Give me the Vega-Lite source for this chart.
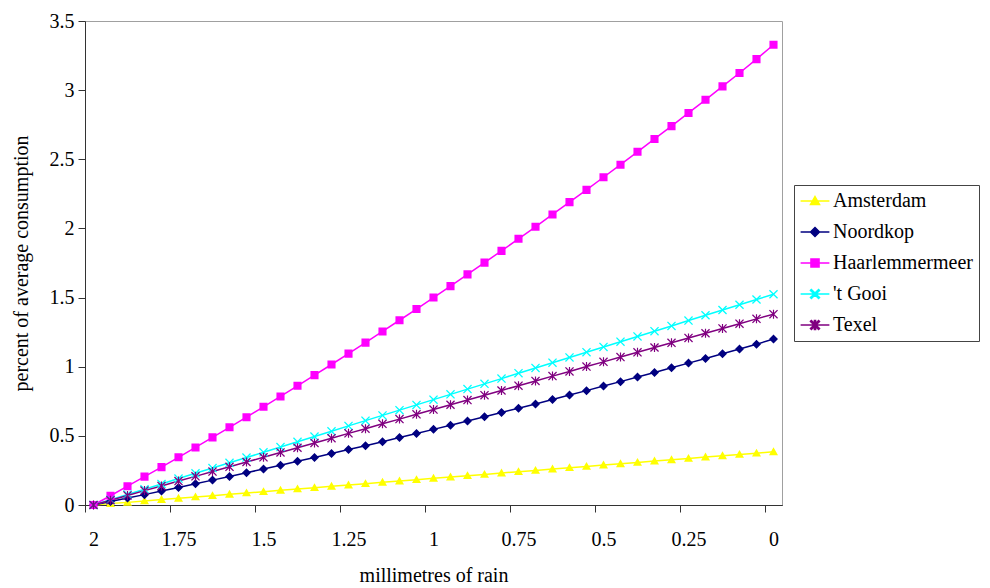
{
  "$schema": "https://vega.github.io/schema/vega-lite/v6.json",
  "autosize": {"type": "none"},
  "width": 697,
  "height": 484,
  "padding": {"left": 85, "top": 21, "right": 208, "bottom": 83},
  "background": "#ffffff",
  "data": {"values": [
    {"r":2,"s":"Amsterdam","v":0},{"r":1.95,"s":"Amsterdam","v":0.010},{"r":1.9,"s":"Amsterdam","v":0.019},{"r":1.85,"s":"Amsterdam","v":0.029},{"r":1.8,"s":"Amsterdam","v":0.039},{"r":1.75,"s":"Amsterdam","v":0.048},{"r":1.7,"s":"Amsterdam","v":0.058},{"r":1.65,"s":"Amsterdam","v":0.067},{"r":1.6,"s":"Amsterdam","v":0.077},{"r":1.55,"s":"Amsterdam","v":0.087},{"r":1.5,"s":"Amsterdam","v":0.096},{"r":1.45,"s":"Amsterdam","v":0.106},{"r":1.4,"s":"Amsterdam","v":0.116},{"r":1.35,"s":"Amsterdam","v":0.125},{"r":1.3,"s":"Amsterdam","v":0.135},{"r":1.25,"s":"Amsterdam","v":0.144},{"r":1.2,"s":"Amsterdam","v":0.154},{"r":1.15,"s":"Amsterdam","v":0.164},{"r":1.1,"s":"Amsterdam","v":0.173},{"r":1.05,"s":"Amsterdam","v":0.183},{"r":1,"s":"Amsterdam","v":0.193},{"r":0.95,"s":"Amsterdam","v":0.202},{"r":0.9,"s":"Amsterdam","v":0.212},{"r":0.85,"s":"Amsterdam","v":0.221},{"r":0.8,"s":"Amsterdam","v":0.231},{"r":0.75,"s":"Amsterdam","v":0.241},{"r":0.7,"s":"Amsterdam","v":0.250},{"r":0.65,"s":"Amsterdam","v":0.260},{"r":0.6,"s":"Amsterdam","v":0.270},{"r":0.55,"s":"Amsterdam","v":0.279},{"r":0.5,"s":"Amsterdam","v":0.289},{"r":0.45,"s":"Amsterdam","v":0.298},{"r":0.4,"s":"Amsterdam","v":0.308},{"r":0.35,"s":"Amsterdam","v":0.318},{"r":0.3,"s":"Amsterdam","v":0.327},{"r":0.25,"s":"Amsterdam","v":0.337},{"r":0.2,"s":"Amsterdam","v":0.347},{"r":0.15,"s":"Amsterdam","v":0.356},{"r":0.1,"s":"Amsterdam","v":0.366},{"r":0.05,"s":"Amsterdam","v":0.375},{"r":0,"s":"Amsterdam","v":0.385},
    {"r":2,"s":"Noordkop","v":0},{"r":1.95,"s":"Noordkop","v":0.025},{"r":1.9,"s":"Noordkop","v":0.050},{"r":1.85,"s":"Noordkop","v":0.075},{"r":1.8,"s":"Noordkop","v":0.101},{"r":1.75,"s":"Noordkop","v":0.127},{"r":1.7,"s":"Noordkop","v":0.153},{"r":1.65,"s":"Noordkop","v":0.180},{"r":1.6,"s":"Noordkop","v":0.206},{"r":1.55,"s":"Noordkop","v":0.233},{"r":1.5,"s":"Noordkop","v":0.261},{"r":1.45,"s":"Noordkop","v":0.288},{"r":1.4,"s":"Noordkop","v":0.316},{"r":1.35,"s":"Noordkop","v":0.344},{"r":1.3,"s":"Noordkop","v":0.372},{"r":1.25,"s":"Noordkop","v":0.401},{"r":1.2,"s":"Noordkop","v":0.429},{"r":1.15,"s":"Noordkop","v":0.458},{"r":1.1,"s":"Noordkop","v":0.488},{"r":1.05,"s":"Noordkop","v":0.517},{"r":1,"s":"Noordkop","v":0.547},{"r":0.95,"s":"Noordkop","v":0.577},{"r":0.9,"s":"Noordkop","v":0.607},{"r":0.85,"s":"Noordkop","v":0.638},{"r":0.8,"s":"Noordkop","v":0.669},{"r":0.75,"s":"Noordkop","v":0.700},{"r":0.7,"s":"Noordkop","v":0.731},{"r":0.65,"s":"Noordkop","v":0.763},{"r":0.6,"s":"Noordkop","v":0.795},{"r":0.55,"s":"Noordkop","v":0.827},{"r":0.5,"s":"Noordkop","v":0.860},{"r":0.45,"s":"Noordkop","v":0.892},{"r":0.4,"s":"Noordkop","v":0.925},{"r":0.35,"s":"Noordkop","v":0.958},{"r":0.3,"s":"Noordkop","v":0.992},{"r":0.25,"s":"Noordkop","v":1.026},{"r":0.2,"s":"Noordkop","v":1.059},{"r":0.15,"s":"Noordkop","v":1.094},{"r":0.1,"s":"Noordkop","v":1.128},{"r":0.05,"s":"Noordkop","v":1.163},{"r":0,"s":"Noordkop","v":1.200},
    {"r":2,"s":"Haarlemmermeer","v":0},{"r":1.95,"s":"Haarlemmermeer","v":0.067},{"r":1.9,"s":"Haarlemmermeer","v":0.136},{"r":1.85,"s":"Haarlemmermeer","v":0.205},{"r":1.8,"s":"Haarlemmermeer","v":0.274},{"r":1.75,"s":"Haarlemmermeer","v":0.345},{"r":1.7,"s":"Haarlemmermeer","v":0.416},{"r":1.65,"s":"Haarlemmermeer","v":0.489},{"r":1.6,"s":"Haarlemmermeer","v":0.562},{"r":1.55,"s":"Haarlemmermeer","v":0.635},{"r":1.5,"s":"Haarlemmermeer","v":0.710},{"r":1.45,"s":"Haarlemmermeer","v":0.785},{"r":1.4,"s":"Haarlemmermeer","v":0.862},{"r":1.35,"s":"Haarlemmermeer","v":0.939},{"r":1.3,"s":"Haarlemmermeer","v":1.016},{"r":1.25,"s":"Haarlemmermeer","v":1.095},{"r":1.2,"s":"Haarlemmermeer","v":1.174},{"r":1.15,"s":"Haarlemmermeer","v":1.255},{"r":1.1,"s":"Haarlemmermeer","v":1.336},{"r":1.05,"s":"Haarlemmermeer","v":1.417},{"r":1,"s":"Haarlemmermeer","v":1.500},{"r":0.95,"s":"Haarlemmermeer","v":1.583},{"r":0.9,"s":"Haarlemmermeer","v":1.668},{"r":0.85,"s":"Haarlemmermeer","v":1.753},{"r":0.8,"s":"Haarlemmermeer","v":1.838},{"r":0.75,"s":"Haarlemmermeer","v":1.925},{"r":0.7,"s":"Haarlemmermeer","v":2.012},{"r":0.65,"s":"Haarlemmermeer","v":2.101},{"r":0.6,"s":"Haarlemmermeer","v":2.190},{"r":0.55,"s":"Haarlemmermeer","v":2.279},{"r":0.5,"s":"Haarlemmermeer","v":2.370},{"r":0.45,"s":"Haarlemmermeer","v":2.461},{"r":0.4,"s":"Haarlemmermeer","v":2.554},{"r":0.35,"s":"Haarlemmermeer","v":2.647},{"r":0.3,"s":"Haarlemmermeer","v":2.740},{"r":0.25,"s":"Haarlemmermeer","v":2.835},{"r":0.2,"s":"Haarlemmermeer","v":2.930},{"r":0.15,"s":"Haarlemmermeer","v":3.027},{"r":0.1,"s":"Haarlemmermeer","v":3.124},{"r":0.05,"s":"Haarlemmermeer","v":3.224},{"r":0,"s":"Haarlemmermeer","v":3.328},
    {"r":2,"s":"'t Gooi","v":0},{"r":1.95,"s":"'t Gooi","v":0.038},{"r":1.9,"s":"'t Gooi","v":0.076},{"r":1.85,"s":"'t Gooi","v":0.114},{"r":1.8,"s":"'t Gooi","v":0.152},{"r":1.75,"s":"'t Gooi","v":0.191},{"r":1.7,"s":"'t Gooi","v":0.229},{"r":1.65,"s":"'t Gooi","v":0.267},{"r":1.6,"s":"'t Gooi","v":0.305},{"r":1.55,"s":"'t Gooi","v":0.343},{"r":1.5,"s":"'t Gooi","v":0.381},{"r":1.45,"s":"'t Gooi","v":0.419},{"r":1.4,"s":"'t Gooi","v":0.457},{"r":1.35,"s":"'t Gooi","v":0.495},{"r":1.3,"s":"'t Gooi","v":0.533},{"r":1.25,"s":"'t Gooi","v":0.572},{"r":1.2,"s":"'t Gooi","v":0.610},{"r":1.15,"s":"'t Gooi","v":0.648},{"r":1.1,"s":"'t Gooi","v":0.686},{"r":1.05,"s":"'t Gooi","v":0.724},{"r":1,"s":"'t Gooi","v":0.762},{"r":0.95,"s":"'t Gooi","v":0.800},{"r":0.9,"s":"'t Gooi","v":0.838},{"r":0.85,"s":"'t Gooi","v":0.876},{"r":0.8,"s":"'t Gooi","v":0.914},{"r":0.75,"s":"'t Gooi","v":0.953},{"r":0.7,"s":"'t Gooi","v":0.991},{"r":0.65,"s":"'t Gooi","v":1.029},{"r":0.6,"s":"'t Gooi","v":1.067},{"r":0.55,"s":"'t Gooi","v":1.105},{"r":0.5,"s":"'t Gooi","v":1.143},{"r":0.45,"s":"'t Gooi","v":1.181},{"r":0.4,"s":"'t Gooi","v":1.219},{"r":0.35,"s":"'t Gooi","v":1.257},{"r":0.3,"s":"'t Gooi","v":1.295},{"r":0.25,"s":"'t Gooi","v":1.334},{"r":0.2,"s":"'t Gooi","v":1.372},{"r":0.15,"s":"'t Gooi","v":1.410},{"r":0.1,"s":"'t Gooi","v":1.448},{"r":0.05,"s":"'t Gooi","v":1.486},{"r":0,"s":"'t Gooi","v":1.524},
    {"r":2,"s":"Texel","v":0},{"r":1.95,"s":"Texel","v":0.035},{"r":1.9,"s":"Texel","v":0.069},{"r":1.85,"s":"Texel","v":0.104},{"r":1.8,"s":"Texel","v":0.138},{"r":1.75,"s":"Texel","v":0.173},{"r":1.7,"s":"Texel","v":0.207},{"r":1.65,"s":"Texel","v":0.242},{"r":1.6,"s":"Texel","v":0.276},{"r":1.55,"s":"Texel","v":0.311},{"r":1.5,"s":"Texel","v":0.345},{"r":1.45,"s":"Texel","v":0.380},{"r":1.4,"s":"Texel","v":0.414},{"r":1.35,"s":"Texel","v":0.449},{"r":1.3,"s":"Texel","v":0.483},{"r":1.25,"s":"Texel","v":0.518},{"r":1.2,"s":"Texel","v":0.552},{"r":1.15,"s":"Texel","v":0.587},{"r":1.1,"s":"Texel","v":0.621},{"r":1.05,"s":"Texel","v":0.656},{"r":1,"s":"Texel","v":0.690},{"r":0.95,"s":"Texel","v":0.725},{"r":0.9,"s":"Texel","v":0.759},{"r":0.85,"s":"Texel","v":0.794},{"r":0.8,"s":"Texel","v":0.828},{"r":0.75,"s":"Texel","v":0.863},{"r":0.7,"s":"Texel","v":0.897},{"r":0.65,"s":"Texel","v":0.932},{"r":0.6,"s":"Texel","v":0.966},{"r":0.55,"s":"Texel","v":1.001},{"r":0.5,"s":"Texel","v":1.035},{"r":0.45,"s":"Texel","v":1.070},{"r":0.4,"s":"Texel","v":1.104},{"r":0.35,"s":"Texel","v":1.139},{"r":0.3,"s":"Texel","v":1.173},{"r":0.25,"s":"Texel","v":1.208},{"r":0.2,"s":"Texel","v":1.242},{"r":0.15,"s":"Texel","v":1.277},{"r":0.1,"s":"Texel","v":1.311},{"r":0.05,"s":"Texel","v":1.346},{"r":0,"s":"Texel","v":1.380}
  ]},
  "layer": [
    {
      "mark": {"type": "line", "strokeWidth": 1.5},
      "encoding": {
        "x": {"field": "r", "type": "quantitative", "scale": {"domain": [2.025, -0.025], "nice": false, "zero": false},
              "axis": {"orient": "bottom", "values": [2, 1.75, 1.5, 1.25, 1, 0.75, 0.5, 0.25, 0], "labelExpr": "'' + datum.value", "ticks": false, "tickSize": 0, "labelPadding": 24, "title": "millimetres of rain", "titlePadding": 16}},
        "y": {"field": "v", "type": "quantitative", "scale": {"domain": [0, 3.5], "nice": false},
              "axis": {"values": [0, 0.5, 1, 1.5, 2, 2.5, 3, 3.5], "labelExpr": "'' + datum.value", "tickSize": 7, "labelPadding": 4, "title": "percent of average consumption", "titlePadding": 18}},
        "color": {"field": "s", "type": "nominal",
                  "scale": {"domain": ["Amsterdam", "Noordkop", "Haarlemmermeer", "'t Gooi", "Texel"], "range": ["#FFFF00", "#000080", "#FF00FF", "#00FFFF", "#800080"]}}
      }
    },
    {
      "mark": {"type": "point", "filled": true, "opacity": 1, "size": 81},
      "encoding": {
        "x": {"field": "r", "type": "quantitative",
              "axis": {"orient": "bottom", "values": [2.025, 1.775, 1.525, 1.275, 1.025, 0.775, 0.525, 0.275, 0.025], "labels": false, "ticks": true, "tickSize": 7, "title": null}},
        "y": {"field": "v", "type": "quantitative"},
        "color": {"field": "s", "type": "nominal"},
        "shape": {"field": "s", "type": "nominal",
                  "scale": {"domain": ["Amsterdam", "Noordkop", "Haarlemmermeer", "'t Gooi", "Texel"],
                            "range": [
                              "M-3.2,0H3.2M0,-1L1,0.75L-1,0.75Z",
                              "M-3.2,0H3.2M0,-1L1,0L0,1L-1,0Z",
                              "M-3.2,0H3.2M-0.9,-0.9H0.9V0.9H-0.9Z",
                              "M-3.2,0H3.2M-1,-0.8L-0.8,-1L0,-0.2L0.8,-1L1,-0.8L0.2,0L1,0.8L0.8,1L0,0.2L-0.8,1L-1,0.8L-0.2,0Z",
                              "M-3.2,0H3.2M-1,-0.8L-0.8,-1L0,-0.2L0.8,-1L1,-0.8L0.2,0L1,0.8L0.8,1L0,0.2L-0.8,1L-1,0.8L-0.2,0ZM-0.13,-1H0.13V1H-0.13Z"
                            ]}}
      }
    }
  ],
  "resolve": {"axis": {"x": "independent"}},
  "config": {
    "view": {"stroke": "#a0a0a0", "strokeWidth": 1},
    "font": "Liberation Serif",
    "axis": {"labelFont": "Liberation Serif", "labelFontSize": 20, "labelColor": "#000000", "titleFont": "Liberation Serif", "titleFontSize": 20, "titleFontWeight": "normal", "titleColor": "#000000", "domainColor": "#333333", "tickColor": "#333333", "grid": false},
    "legend": {"title": null, "labelFont": "Liberation Serif", "labelFontSize": 20, "labelColor": "#000000", "strokeColor": "#444444", "fillColor": "#ffffff", "padding": 6, "rowPadding": 11, "symbolSize": 81, "symbolStrokeWidth": 1.5, "symbolOffset": 5, "labelOffset": 8, "labelLimit": 400, "cornerRadius": 0, "offset": 12,
               "layout": {"right": {"anchor": "middle"}}}
  }
}
